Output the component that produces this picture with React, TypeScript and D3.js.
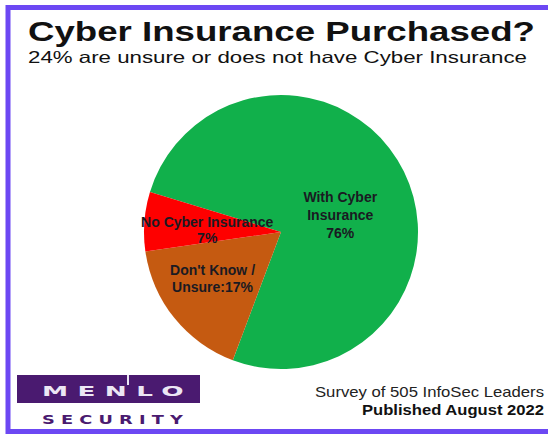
import React from "react";
import * as d3 from "d3";

const categories = ["With Cyber Insurance", "Don't Know / Unsure", "No Cyber Insurance"];
const values = [76, 17, 7];
const labelLines = [
  ["With Cyber", "Insurance", "76%"],
  ["Don't Know /", "Unsure:17%"],
  ["No Cyber Insurance", "7%"],
];
const sliceColors = ["#11b04b", "#c55a11", "#fe0000"];
const titleText = "Cyber Insurance Purchased?";
const subtitleText = "24% are unsure or does not have Cyber Insurance";
const footerLines = ["Survey of 505 InfoSec Leaders", "Published August 2022"];

const W = 548;
const H = 435;
const cx = 281;
const cy = 232;
const R = 137;
const labelR = 75;
const labelNudge = [
  { dx: -8, dy: 16 },
  { dx: -10, dy: 0 },
  { dx: 1, dy: 4 },
];
const lineHeights = [18, 17, 16];

export default function App() {
  const deg = Math.PI / 180;
  const pie = d3
    .pie<number>()
    .sort(null)
    .value((d) => d)
    .startAngle(-73 * deg)
    .endAngle(287 * deg);
  const arcs = pie(values);
  const arc = d3.arc<d3.PieArcDatum<number>>().innerRadius(0).outerRadius(R);
  const labelArc = d3.arc<d3.PieArcDatum<number>>().innerRadius(labelR).outerRadius(labelR);

  return (
    <svg
      width={W}
      height={H}
      style={{ position: "absolute", left: 0, top: 0, background: "#fff" }}
      fontFamily="'Liberation Sans', Arial, sans-serif"
    >
      <rect x={0} y={0} width={W} height={H} fill="#fff" />
      <rect x={8} y={7.5} width={W + 20} height={424} fill="none" stroke="#6c48f3" strokeWidth={5} />

      <text x={28} y={41} fontSize={28.5} fontWeight="bold" fill="#111" textLength={507} lengthAdjust="spacingAndGlyphs">
        {titleText}
      </text>
      <text x={28} y={63} fontSize={16.5} fill="#111" textLength={499} lengthAdjust="spacingAndGlyphs">
        {subtitleText}
      </text>

      <g transform={`translate(${cx},${cy})`}>
        {arcs.map((a, i) => (
          <path key={categories[i]} d={arc(a) || ""} fill={sliceColors[i]} />
        ))}
      </g>

      {arcs.map((a, i) => {
        const [lx, ly] = labelArc.centroid(a);
        const x = cx + lx + labelNudge[i].dx;
        const y = cy + ly + labelNudge[i].dy;
        const lines = labelLines[i];
        const lh = lineHeights[i];
        return (
          <text key={categories[i]} textAnchor="middle" fontSize={14} fontWeight="bold" fill="#1a1a22">
            {lines.map((ln, j) => (
              <tspan key={j} x={x} y={y + (j - (lines.length - 1) / 2) * lh + 5}>
                {ln}
              </tspan>
            ))}
          </text>
        );
      })}

      {/* logo */}
      <rect x={17} y={375} width={183} height={28} fill="#4a1a70" />
      <text
        x={42}
        y={396}
        fontFamily="'DejaVu Sans', sans-serif"
        fontWeight="bold"
        fontSize={14}
        letterSpacing={5}
        fill="#ece6f4"
        textLength={151}
        lengthAdjust="spacingAndGlyphs"
      >
        MENLO
      </text>
      <rect x={127} y={375} width={2} height={10} fill="#ece6f4" />
      <text
        x={42}
        y={424}
        fontFamily="'DejaVu Sans', sans-serif"
        fontWeight="bold"
        fontSize={11.5}
        letterSpacing={4}
        fill="#4a1a70"
        textLength={147}
        lengthAdjust="spacingAndGlyphs"
      >
        SECURITY
      </text>

      <text x={544} y={397} textAnchor="end" fontSize={15} fill="#222" textLength={229} lengthAdjust="spacingAndGlyphs">
        {footerLines[0]}
      </text>
      <text x={544} y={415} textAnchor="end" fontSize={15} fontWeight="bold" fill="#111" textLength={182} lengthAdjust="spacingAndGlyphs">
        {footerLines[1]}
      </text>
    </svg>
  );
}
